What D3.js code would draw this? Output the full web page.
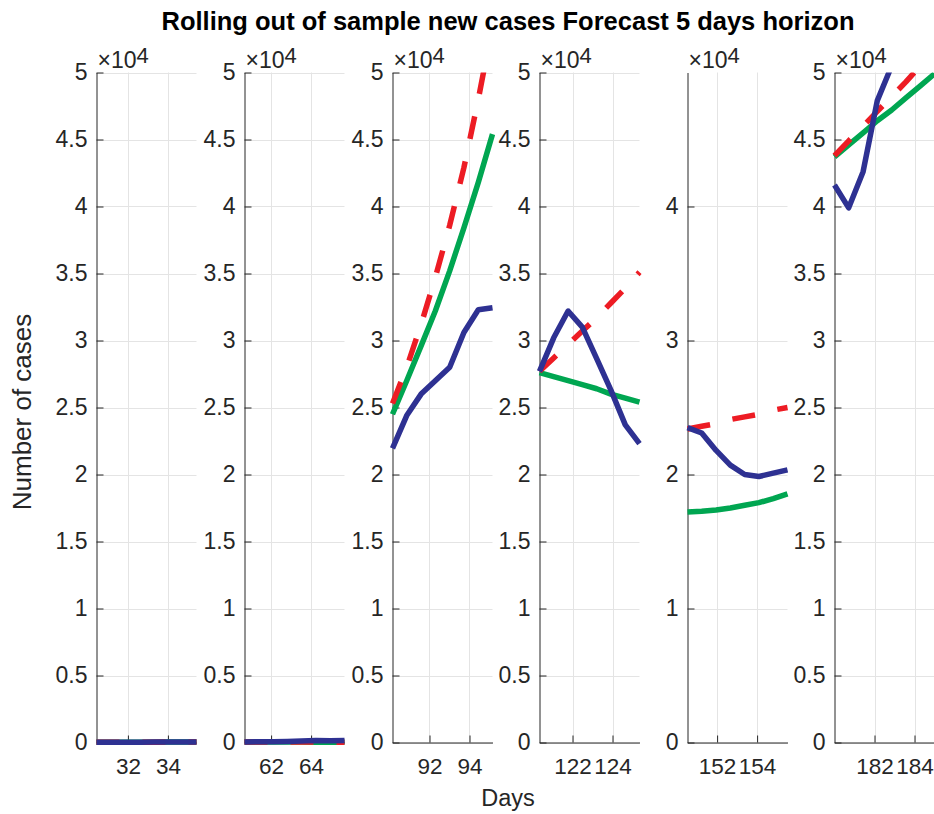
<!DOCTYPE html>
<html>
<head>
<meta charset="utf-8">
<script src="https://cdn.jsdelivr.net/npm/d3@7"></script>
<style>
body { margin: 0; background: #fff; }
text { font-family: "Liberation Sans", Arial, Helvetica, sans-serif; }
</style>
</head>
<body>
<svg id="fig" width="934" height="814"></svg>
<script>
// days of each 5 day window
const days = [
    [30.43, 31.14, 31.86, 32.57, 33.29, 34.00, 34.71, 35.43],
    [60.67, 61.38, 62.10, 62.81, 63.52, 64.24, 64.95, 65.67],
    [90.15, 90.86, 91.58, 92.29, 93.01, 93.72, 94.44, 95.15],
    [120.35, 121.06, 121.78, 122.49, 123.21, 123.92, 124.64, 125.35],
    [150.52, 151.23, 151.95, 152.66, 153.38, 154.09, 154.81, 155.52],
    [180.00, 180.71, 181.43, 182.14, 182.86, 183.57, 184.29, 185.00]
];
// observed new cases (blue)
const actualCases = [
    [20, 22, 25, 28, 32, 36, 40, 45],
    [40, 50, 60, 80, 110, 150, 130, 140],
    [21950, 24400, 26000, 27000, 28000, 30600, 32300, 32450],
    [27700, 30200, 32200, 31000, 28650, 26300, 23700, 22300],
    [23500, 23100, 21800, 20700, 20000, 19850, 20100, 20350],
    [41600, 39900, 42600, 47900, 50500, 53000, 55000, 57000]
];
// forecast, dashed red
const forecastA = [
    [20, 22, 24, 26, 28, 30, 33, 36],
    [40, 42, 40, 38, 35, 30, 25, 20],
    [25300, 28000, 31200, 34700, 38600, 42900, 48000, 53500],
    [27700, 28700, 29700, 30700, 31700, 32800, 33900, 35100],
    [23400, 23600, 23800, 24100, 24300, 24500, 24800, 25000],
    [43800, 44900, 46000, 47100, 48200, 49300, 50500, 51600]
];
// forecast, solid green
const forecastB = [
    [20, 22, 24, 26, 28, 30, 33, 36],
    [40, 41, 39, 36, 32, 27, 22, 18],
    [24500, 27000, 29600, 32200, 35200, 38400, 41800, 45400],
    [27600, 27300, 27000, 26700, 26400, 26000, 25700, 25400],
    [17200, 17250, 17350, 17500, 17700, 17900, 18200, 18550],
    [43700, 44600, 45500, 46400, 47200, 48100, 49000, 49900]
];
const xTicks = [[32, 34], [62, 64], [92, 94], [122, 124], [152, 154], [182, 184]];
const yTicksHalf = [0, 5000, 10000, 15000, 20000, 25000, 30000, 35000, 40000, 45000, 50000];
const yTicksWhole = [0, 10000, 20000, 30000, 40000];
const yTicks = [yTicksHalf, yTicksHalf, yTicksHalf, yTicksHalf, yTicksWhole, yTicksHalf];

const colBlue = "#2e3192", colRed = "#ed1c24", colGreen = "#00a651";
const axisCol = "#262626", gridCol = "#e4e4e4";

const svg = d3.select("#fig");
const plotTop = 72.5, plotBottom = 742.5, panelW = 100;
const lefts = [96, 244, 392, 539, 687, 834];

const y = d3.scaleLinear().domain([0, 50000]).range([plotBottom, plotTop]);

const defs = svg.append("defs");

days.forEach((D, p) => {
    const left = lefts[p] + 0.5;
    const x = d3.scaleLinear().domain(d3.extent(D)).range([left, left + panelW]);
    const g = svg.append("g");

    defs.append("clipPath").attr("id", `clip${p}`)
        .append("rect")
        .attr("x", left - 4).attr("y", plotTop)
        .attr("width", panelW + 8).attr("height", plotBottom - plotTop + 10);

    // grid
    g.selectAll(".gy").data(yTicks[p]).join("line")
        .attr("x1", left).attr("x2", left + panelW)
        .attr("y1", d => Math.round(y(d)) + 0.5).attr("y2", d => Math.round(y(d)) + 0.5)
        .attr("stroke", gridCol);
    g.selectAll(".gx").data(xTicks[p]).join("line")
        .attr("x1", d => Math.round(x(d)) + 0.5).attr("x2", d => Math.round(x(d)) + 0.5)
        .attr("y1", plotTop).attr("y2", plotBottom)
        .attr("stroke", gridCol);

    // axes
    const yAxis = d3.axisLeft(y).tickValues(yTicks[p]).tickSizeInner(-7).tickSizeOuter(0)
        .tickPadding(9).tickFormat(d => d3.format("~g")(d / 10000));
    const xAxis = d3.axisBottom(x).tickValues(xTicks[p]).tickSizeInner(-7).tickSizeOuter(0)
        .tickPadding(16).tickFormat(d3.format("d"));

    const ga = g.append("g").attr("transform", `translate(${left},0)`).call(yAxis);
    const gb = g.append("g").attr("transform", `translate(0,${plotBottom})`).call(xAxis);
    [ga, gb].forEach(a => {
        a.attr("font-family", null).attr("font-size", null);
        a.selectAll("path, line").attr("stroke", axisCol);
        a.selectAll("text").attr("fill", axisCol).style("font-size", "23px");
    });
    gb.selectAll("text").attr("dy", "0.71em").style("font-size", "22.5px");

    // exponent label
    const ex = g.append("text").attr("x", left + 1).attr("y", 68)
        .attr("fill", axisCol).style("font-size", "23px");
    ex.append("tspan").text("×10");
    ex.append("tspan").attr("dy", -5).style("font-size", "22px").text("4");

    const line = d3.line().x((d, i) => x(D[i])).y(d => y(d));
    const lines = g.append("g").attr("clip-path", `url(#clip${p})`)
        .attr("fill", "none").attr("stroke-width", 5.5).attr("stroke-linejoin", "round");

    lines.append("path").attr("d", line(forecastB[p])).attr("stroke", colGreen);
    lines.append("path").attr("d", line(forecastA[p])).attr("stroke", colRed)
        .attr("stroke-dasharray", "23,23");
    lines.append("path").attr("d", line(actualCases[p])).attr("stroke", colBlue);
});

svg.append("text").attr("x", 508).attr("y", 30).attr("text-anchor", "middle")
    .style("font-size", "25.5px").style("font-weight", "bold")
    .text("Rolling out of sample new cases Forecast 5 days horizon");

svg.append("text").attr("x", 508).attr("y", 806).attr("text-anchor", "middle")
    .attr("fill", axisCol).style("font-size", "23.5px").text("Days");

svg.append("text").attr("transform", "translate(31,412) rotate(-90)")
    .attr("text-anchor", "middle").attr("fill", axisCol)
    .style("font-size", "26px").text("Number of cases");
</script>
</body>
</html>
